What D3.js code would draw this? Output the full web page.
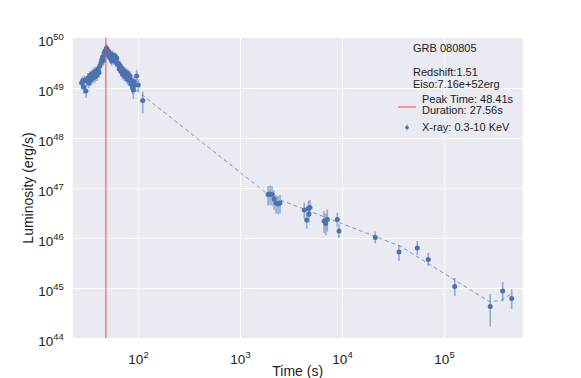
<!DOCTYPE html>
<html><head><meta charset="utf-8">
<script src="https://cdn.jsdelivr.net/npm/d3@7"></script>
<style>
body{margin:0;background:#fff;}
svg{display:block;font-family:"Liberation Sans",Arial,sans-serif;}
</style></head>
<body><svg id="c" width="581" height="378"></svg>
<script>
// ---- data ----
const xTickValues = [1e2, 1e3, 1e4, 1e5];
const yTickValues = [1e44, 1e45, 1e46, 1e47, 1e48, 1e49, 1e50];
const peakTime = 48.41;
const duration = 27.56;
const grbName = "GRB 080805";
const redshiftText = "Redshift:1.51";
const eisoText = "Eiso:7.16e+52erg";

// X-ray light curve (time in s, log10 luminosity, error in dex down/up)
const xrayTime = [28.0,28.6,29.3,30.0,30.9,31.6,32.3,33.0,33.8,34.6,35.4,36.2,37.0,37.9,38.8,39.7,40.6,41.5,42.4,43.3,44.1,44.9,45.7,46.6,47.5,48.3,49.1,50.0,50.8,51.6,52.4,53.3,54.2,55.2,56.2,57.3,58.4,59.5,60.7,61.9,63.1,64.3,65.5,66.6,67.9,69.2,70.5,71.8,73.1,74.5,75.9,77.4,78.9,80.4,82.0,83.5,85.1,86.7,88.3,90.0,91.5,94.0,97.1,100.7,111.2,
  1885,1968,2060,2155,2255,2360,2467,4266,4506,4677,4747,4855,6670,6923,7180,8996,9348,21200,36200,54700,70100,127400,284000,376000,461000];
const xrayLogLum = [49.10,49.14,49.02,49.16,48.94,49.14,49.20,49.10,49.25,49.16,49.28,49.20,49.31,49.22,49.34,49.26,49.38,49.31,49.44,49.50,49.56,49.62,49.55,49.70,49.74,49.67,49.80,49.76,49.70,49.73,49.62,49.69,49.58,49.54,49.66,49.63,49.56,49.64,49.52,49.60,49.47,49.49,49.38,49.45,49.34,49.40,49.28,49.35,49.25,49.33,49.22,49.30,49.18,49.27,49.15,49.24,49.08,49.15,49.02,48.96,49.12,49.06,49.24,49.06,48.75,
  46.87,46.88,46.87,46.78,46.70,46.68,46.70,46.56,46.36,46.59,46.48,46.61,46.34,46.29,46.37,46.37,46.14,46.01,45.72,45.80,45.57,45.03,44.63,44.94,44.79];
const xrayErrUp = [0.10,0.09,0.11,0.09,0.12,0.09,0.10,0.10,0.09,0.10,0.09,0.09,0.10,0.09,0.09,0.10,0.09,0.09,0.09,0.08,0.09,0.08,0.09,0.08,0.08,0.09,0.08,0.08,0.08,0.09,0.08,0.08,0.09,0.08,0.09,0.08,0.09,0.08,0.09,0.08,0.09,0.09,0.09,0.09,0.10,0.09,0.10,0.09,0.10,0.09,0.10,0.09,0.10,0.10,0.10,0.10,0.11,0.11,0.12,0.16,0.11,0.12,0.12,0.12,0.18,
  0.17,0.17,0.17,0.17,0.16,0.16,0.16,0.15,0.15,0.15,0.15,0.15,0.20,0.20,0.20,0.13,0.13,0.12,0.14,0.14,0.13,0.17,0.25,0.18,0.19];
const xrayErrDown = [0.12,0.11,0.13,0.11,0.14,0.11,0.12,0.11,0.11,0.12,0.11,0.11,0.12,0.11,0.11,0.12,0.11,0.11,0.10,0.10,0.10,0.09,0.10,0.09,0.09,0.10,0.09,0.09,0.09,0.10,0.09,0.09,0.10,0.09,0.10,0.09,0.10,0.09,0.10,0.09,0.10,0.10,0.10,0.10,0.11,0.10,0.11,0.10,0.11,0.10,0.11,0.10,0.11,0.11,0.11,0.11,0.12,0.12,0.14,0.18,0.12,0.14,0.14,0.14,0.26,
  0.22,0.22,0.22,0.22,0.21,0.21,0.21,0.17,0.17,0.17,0.17,0.17,0.24,0.24,0.24,0.14,0.14,0.12,0.18,0.14,0.13,0.19,0.40,0.21,0.21];

// fitted model line (dashed)
const fitTime = [95.6, 1968, 37070, 282500, 368000, 454000];
const fitLogLum = [48.96, 46.84, 45.84, 44.72, 44.76, 44.88];

// ---- drawing ----
const svg = d3.select("#c");
const L = 72.7, R = 522.7, T = 38, B = 338;
const x = d3.scaleLog().domain([22.9, 591000]).range([L, R]);
const y = d3.scaleLog().domain([1e44, 1e50]).range([B, T]);
const blue = "#4c72b0";
const red = "#ff4040";

svg.append("rect").attr("x", L).attr("y", T).attr("width", R - L).attr("height", B - T).attr("fill", "#eaeaf2");

// grid
svg.append("g").attr("transform", `translate(0,${B})`)
  .call(d3.axisBottom(x).tickValues(xTickValues).tickSize(-(B - T)).tickFormat(""))
  .call(g => { g.select(".domain").remove(); g.selectAll("line").attr("stroke", "#fff").attr("stroke-width", 1); });
svg.append("g").attr("transform", `translate(${L},0)`)
  .call(d3.axisLeft(y).tickValues(yTickValues.slice(1, -1)).tickSize(-(R - L)).tickFormat(""))
  .call(g => { g.select(".domain").remove(); g.selectAll("line").attr("stroke", "#fff").attr("stroke-width", 1); });

// tick labels as axes
function supLabels(g, fs) {
  g.selectAll(".tick text").each(function(d) {
    const t = d3.select(this);
    const e = Math.round(Math.log10(d));
    t.text(null).attr("fill", "#222").attr("font-size", fs);
    t.append("tspan").text("10");
    t.append("tspan").attr("font-size", fs * 0.7).attr("dy", -fs * 0.45).text(e);
  });
}
svg.append("g").attr("transform", `translate(0,${B})`)
  .call(d3.axisBottom(x).tickValues(xTickValues).tickSize(0).tickPadding(16))
  .call(g => { g.select(".domain").remove(); supLabels(g, 13.5); g.selectAll(".tick text").attr("font-family", "Liberation Sans, Arial, sans-serif"); });
svg.append("g").attr("transform", `translate(${L},0)`)
  .call(d3.axisLeft(y).tickValues(yTickValues).tickSize(0).tickPadding(9))
  .call(g => { g.select(".domain").remove(); supLabels(g, 13.5); g.selectAll(".tick text").attr("font-family", "Liberation Sans, Arial, sans-serif").attr("dy", "0.55em"); });

// axis titles
svg.append("text").attr("x", (L + R) / 2).attr("y", 376).attr("text-anchor", "middle")
  .attr("font-size", 14).attr("fill", "#222").text("Time (s)");
svg.append("text").attr("transform", `translate(33,${(T + B) / 2}) rotate(-90)`).attr("text-anchor", "middle")
  .attr("font-size", 14).attr("fill", "#222").text("Luminosity (erg/s)");

const plot = svg.append("g");

// dashed fit line
plot.append("path")
  .datum(fitTime.map((t, i) => [t, Math.pow(10, fitLogLum[i])]))
  .attr("fill", "none").attr("stroke", blue).attr("stroke-opacity", 0.7).attr("stroke-width", 1)
  .attr("stroke-dasharray", "4,3")
  .attr("d", d3.line().x(d => x(d[0])).y(d => y(d[1])));

// error bars + points
const pts = xrayTime.map((t, i) => ({t, l: xrayLogLum[i], up: xrayErrUp[i], dn: xrayErrDown[i]}));
plot.selectAll("line.err").data(pts).join("line").attr("class", "err")
  .attr("x1", d => x(d.t)).attr("x2", d => x(d.t))
  .attr("y1", d => y(Math.pow(10, d.l + d.up))).attr("y2", d => y(Math.pow(10, d.l - d.dn)))
  .attr("stroke", blue).attr("stroke-opacity", 0.55).attr("stroke-width", 1.6);
plot.selectAll("circle.pt").data(pts).join("circle").attr("class", "pt")
  .attr("cx", d => x(d.t)).attr("cy", d => y(Math.pow(10, d.l))).attr("r", 2.5)
  .attr("fill", blue);

// peak time line
plot.append("line").attr("x1", x(peakTime)).attr("x2", x(peakTime)).attr("y1", T).attr("y2", B)
  .attr("stroke", red).attr("stroke-width", 1);

// legend / annotation
const lg = svg.append("g").attr("font-size", 11).attr("fill", "#222");
lg.append("text").attr("x", 413).attr("y", 52).text(grbName);
lg.append("text").attr("x", 413).attr("y", 76).text(redshiftText);
lg.append("text").attr("x", 413).attr("y", 88).text(eisoText);
lg.append("line").attr("x1", 398).attr("x2", 416).attr("y1", 107).attr("y2", 107).attr("stroke", red).attr("stroke-width", 1);
lg.append("text").attr("x", 422).attr("y", 103).text("Peak Time: " + peakTime + "s");
lg.append("text").attr("x", 422).attr("y", 114).text("Duration: " + duration + "s");
lg.append("line").attr("x1", 407).attr("x2", 407).attr("y1", 124.5).attr("y2", 130.5).attr("stroke", blue).attr("stroke-opacity", 0.55).attr("stroke-width", 1.5);
lg.append("circle").attr("cx", 407).attr("cy", 127.5).attr("r", 1.8).attr("fill", blue);
lg.append("text").attr("x", 422).attr("y", 131).text("X-ray: 0.3-10 KeV");
</script></body></html>
